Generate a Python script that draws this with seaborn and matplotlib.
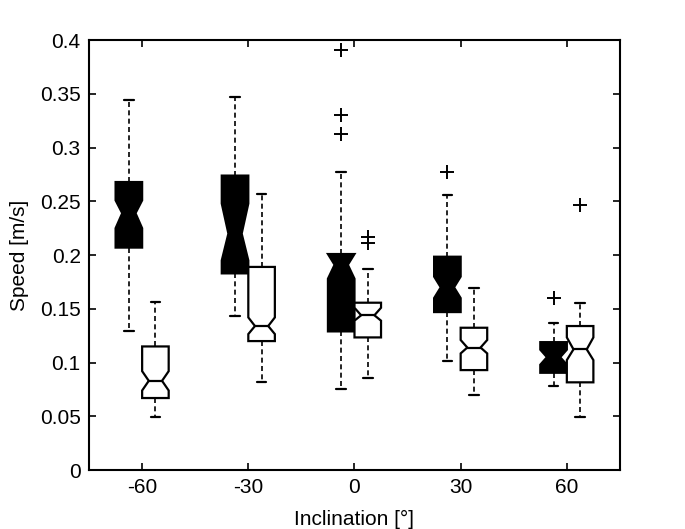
import matplotlib
matplotlib.use("Agg")
import matplotlib.pyplot as plt
from matplotlib.ticker import FuncFormatter
import numpy as np
import seaborn as sns

# inclination categories (degrees)
inclinations = [-60, -30, 0, 30, 60]

# black (filled) boxes
black_whislo = [0.129, 0.143, 0.075, 0.101, 0.078]
black_q1 = [0.207, 0.183, 0.129, 0.147, 0.0905]
black_cilo = [0.225, 0.195, 0.178, 0.160, 0.098]
black_med = [0.239, 0.220, 0.191, 0.170, 0.105]
black_cihi = [0.251, 0.248, 0.201, 0.180, 0.112]
black_q3 = [0.268, 0.274, 0.201, 0.1985, 0.119]
black_whishi = [0.344, 0.347, 0.2775, 0.256, 0.1365]
black_fliers = [[], [], [0.391, 0.330, 0.313], [0.2775], [0.160]]

# white (open) boxes
white_whislo = [0.049, 0.082, 0.086, 0.070, 0.0496]
white_q1 = [0.067, 0.120, 0.1234, 0.093, 0.0816]
white_cilo = [0.074, 0.1265, 0.139, 0.1085, 0.1023]
white_med = [0.083, 0.134, 0.144, 0.114, 0.1123]
white_cihi = [0.092, 0.142, 0.151, 0.121, 0.1234]
white_q3 = [0.115, 0.189, 0.1557, 0.1324, 0.134]
white_whishi = [0.156, 0.257, 0.187, 0.1696, 0.1557]
white_fliers = [[], [], [0.217, 0.211], [], [0.247]]


def make_stats(lo, q1, cilo, med, cihi, q3, hi, fliers):
    """Build the list of stats dicts that Axes.bxp expects."""
    stats = []
    for i in range(len(med)):
        stats.append({
            "whislo": lo[i], "q1": q1[i], "cilo": cilo[i], "med": med[i],
            "cihi": cihi[i], "q3": q3[i], "whishi": hi[i],
            "fliers": np.array(fliers[i]),
        })
    return stats


def draw_boxes(ax, stats, positions, face):
    ax.bxp(
        stats, positions=positions, widths=0.25, capwidths=0.09,
        shownotches=True, patch_artist=True, manage_ticks=False,
        boxprops=dict(facecolor=face, edgecolor="black", linewidth=1.6),
        whiskerprops=dict(color="black", linestyle=(0, (3, 2)), linewidth=1.2),
        capprops=dict(color="black", linewidth=1.6),
        medianprops=dict(color="black", linewidth=1.6),
        flierprops=dict(marker="+", markeredgecolor="black", markersize=10,
                        markeredgewidth=1.4, linestyle="none"),
    )


sns.set_style("ticks", {"xtick.direction": "in", "ytick.direction": "in"})
plt.rcParams["font.family"] = ["Liberation Sans", "DejaVu Sans"]
plt.rcParams["text.color"] = "black"
plt.rcParams["axes.labelcolor"] = "black"

fig = plt.figure(figsize=(6.85, 5.29), dpi=100)
ax = fig.add_axes([0.130, 0.1115, 0.775, 0.8125])

idx = np.arange(len(inclinations))
draw_boxes(ax, make_stats(black_whislo, black_q1, black_cilo, black_med,
                          black_cihi, black_q3, black_whishi, black_fliers),
           idx - 0.125, "black")
draw_boxes(ax, make_stats(white_whislo, white_q1, white_cilo, white_med,
                          white_cihi, white_q3, white_whishi, white_fliers),
           idx + 0.125, "white")

ax.set_xlim(-0.5, len(inclinations) - 0.5)
ax.set_ylim(0, 0.4)
ax.set_xticks(idx)
ax.set_xticklabels([str(v) for v in inclinations])
ax.set_yticks(np.arange(0, 0.401, 0.05))
ax.yaxis.set_major_formatter(FuncFormatter(lambda v, p: f"{v:g}"))
ax.tick_params(top=True, right=True, direction="in", length=5, width=1.2,
               labelsize=15, colors="black", pad=6)
for sp in ax.spines.values():
    sp.set_visible(True)
    sp.set_linewidth(1.5)
    sp.set_color("black")

ax.set_xlabel("Inclination [°]", fontsize=15, labelpad=9, color="black")
ax.set_ylabel("Speed [m/s]", fontsize=15, labelpad=8, color="black")

fig.savefig("out.png", dpi=100)
